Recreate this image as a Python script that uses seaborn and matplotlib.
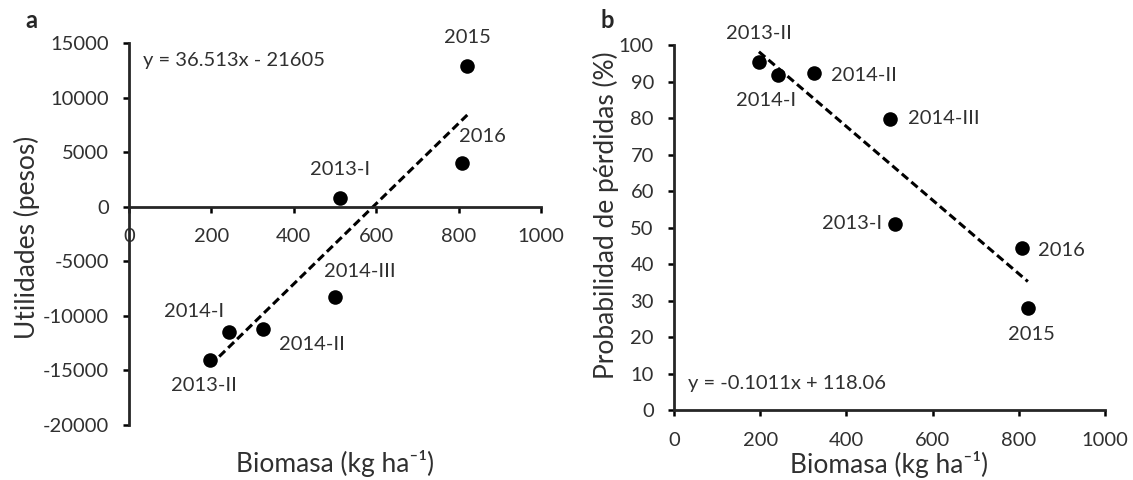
import numpy as np
import pandas as pd
import matplotlib
matplotlib.use('Agg')
import matplotlib.pyplot as plt
import seaborn as sns

# valores
periodos = ['2013-II', '2014-I', '2014-II', '2014-III', '2013-I', '2016', '2015']
biomasa = [197, 242, 325, 500, 512, 808, 821]
utilidades = [-14000, -11500, -11200, -8250, 800, 4000, 12900]
prob_perdidas = [95.4, 91.8, 92.3, 79.8, 51.0, 44.4, 28.0]

ecuacion_a = 'y = 36.513x - 21605'
ecuacion_b = 'y = -0.1011x + 118.06'

df = pd.DataFrame({'periodo': periodos, 'biomasa': biomasa,
                   'utilidades': utilidades, 'prob': prob_perdidas})

# desplazamiento de las etiquetas (pixeles) y alineacion
etiq_a = {'2013-II': (-6, -26, 'center'), '2014-I': (-35, 21, 'center'),
          '2014-II': (49, -16, 'center'), '2014-III': (25, 25, 'center'),
          '2013-I': (0, 28, 'center'), '2016': (21, 27, 'center'),
          '2015': (0, 28, 'center')}
etiq_b = {'2013-II': (0, 28, 'center'), '2014-I': (-12, -26, 'center'),
          '2014-II': (17, -2, 'left'), '2014-III': (18, 0, 'left'),
          '2013-I': (-13, 0, 'right'), '2016': (16, -3, 'left'),
          '2015': (4, -27, 'center')}

sns.set_theme(style='ticks')
plt.rcParams['font.family'] = ['Lato', 'DejaVu Sans']
plt.rcParams['axes.unicode_minus'] = False

fs_tick = 14.5
fs_lab = 19
gris = '#303030'

fig = plt.figure(figsize=(11.33, 4.8), dpi=100)
ax1 = fig.add_axes([0.1139, 0.1146, 0.3636, 0.7958])
ax2 = fig.add_axes([0.5949, 0.1458, 0.3804, 0.7604])

linea = {'ls': (0, (2.7, 1.4)), 'lw': 2.2}

for ax, col, etiq in [(ax1, 'utilidades', etiq_a), (ax2, 'prob', etiq_b)]:
    sns.regplot(data=df, x='biomasa', y=col, ax=ax, scatter=False, ci=None,
                color='black', line_kws=linea)
    sns.scatterplot(data=df, x='biomasa', y=col, ax=ax, color='black', s=110,
                    edgecolor='black', linewidth=0, zorder=3)
    for _, r in df.iterrows():
        dx, dy, ha = etiq[r['periodo']]
        ax.annotate(r['periodo'], (r['biomasa'], r[col]), xytext=(dx, dy),
                    textcoords='offset pixels', ha=ha, va='center',
                    fontsize=fs_tick, color=gris)
    sns.despine(ax=ax)
    ax.spines['left'].set_linewidth(2)
    ax.spines['bottom'].set_linewidth(2)
    ax.tick_params(direction='out', length=4.5, width=1.8, labelsize=fs_tick,
                   labelcolor=gris, color='black')
    ax.tick_params(axis='y', pad=10)
    ax.tick_params(axis='x', pad=11)
    ax.set_xlim(0, 1000)
    ax.set_xticks(np.arange(0, 1001, 200))

# panel a
ax1.set_ylim(-20000, 15000)
ax1.set_yticks(np.arange(-20000, 15001, 5000))
ax1.spines['bottom'].set_position(('data', 0))
ax1.set_xlabel('Biomasa (kg ha⁻¹)', fontsize=fs_lab, color=gris)
ax1.set_ylabel('Utilidades (pesos)', fontsize=fs_lab, color=gris)
ax1.xaxis.set_label_coords(0.5, -0.102)
ax1.xaxis.label.set_va('center')
ax1.yaxis.set_label_coords(-0.248, 0.49)
ax1.yaxis.label.set_va('center')
ax1.text(0.034, 0.955, ecuacion_a, transform=ax1.transAxes, ha='left',
         va='center', fontsize=fs_tick, color=gris)

# panel b
ax2.set_ylim(0, 100)
ax2.set_yticks(np.arange(0, 101, 10))
ax2.set_xlabel('Biomasa (kg ha⁻¹)', fontsize=fs_lab, color=gris)
ax2.set_ylabel('Probabilidad de pérdidas (%)', fontsize=fs_lab, color=gris)
ax2.xaxis.set_label_coords(0.5, -0.148)
ax2.xaxis.label.set_va('center')
ax2.yaxis.set_label_coords(-0.158, 0.534)
ax2.yaxis.label.set_va('center')
ax2.text(0.032, 0.074, ecuacion_b, transform=ax2.transAxes, ha='left',
         va='center', fontsize=fs_tick, color=gris)

fig.text(31 / 1133, 1 - 20 / 480, 'a', fontsize=17, fontweight='bold',
         ha='center', va='center')
fig.text(607 / 1133, 1 - 20 / 480, 'b', fontsize=17, fontweight='bold',
         ha='center', va='center')

fig.savefig('out.png', dpi=100)
